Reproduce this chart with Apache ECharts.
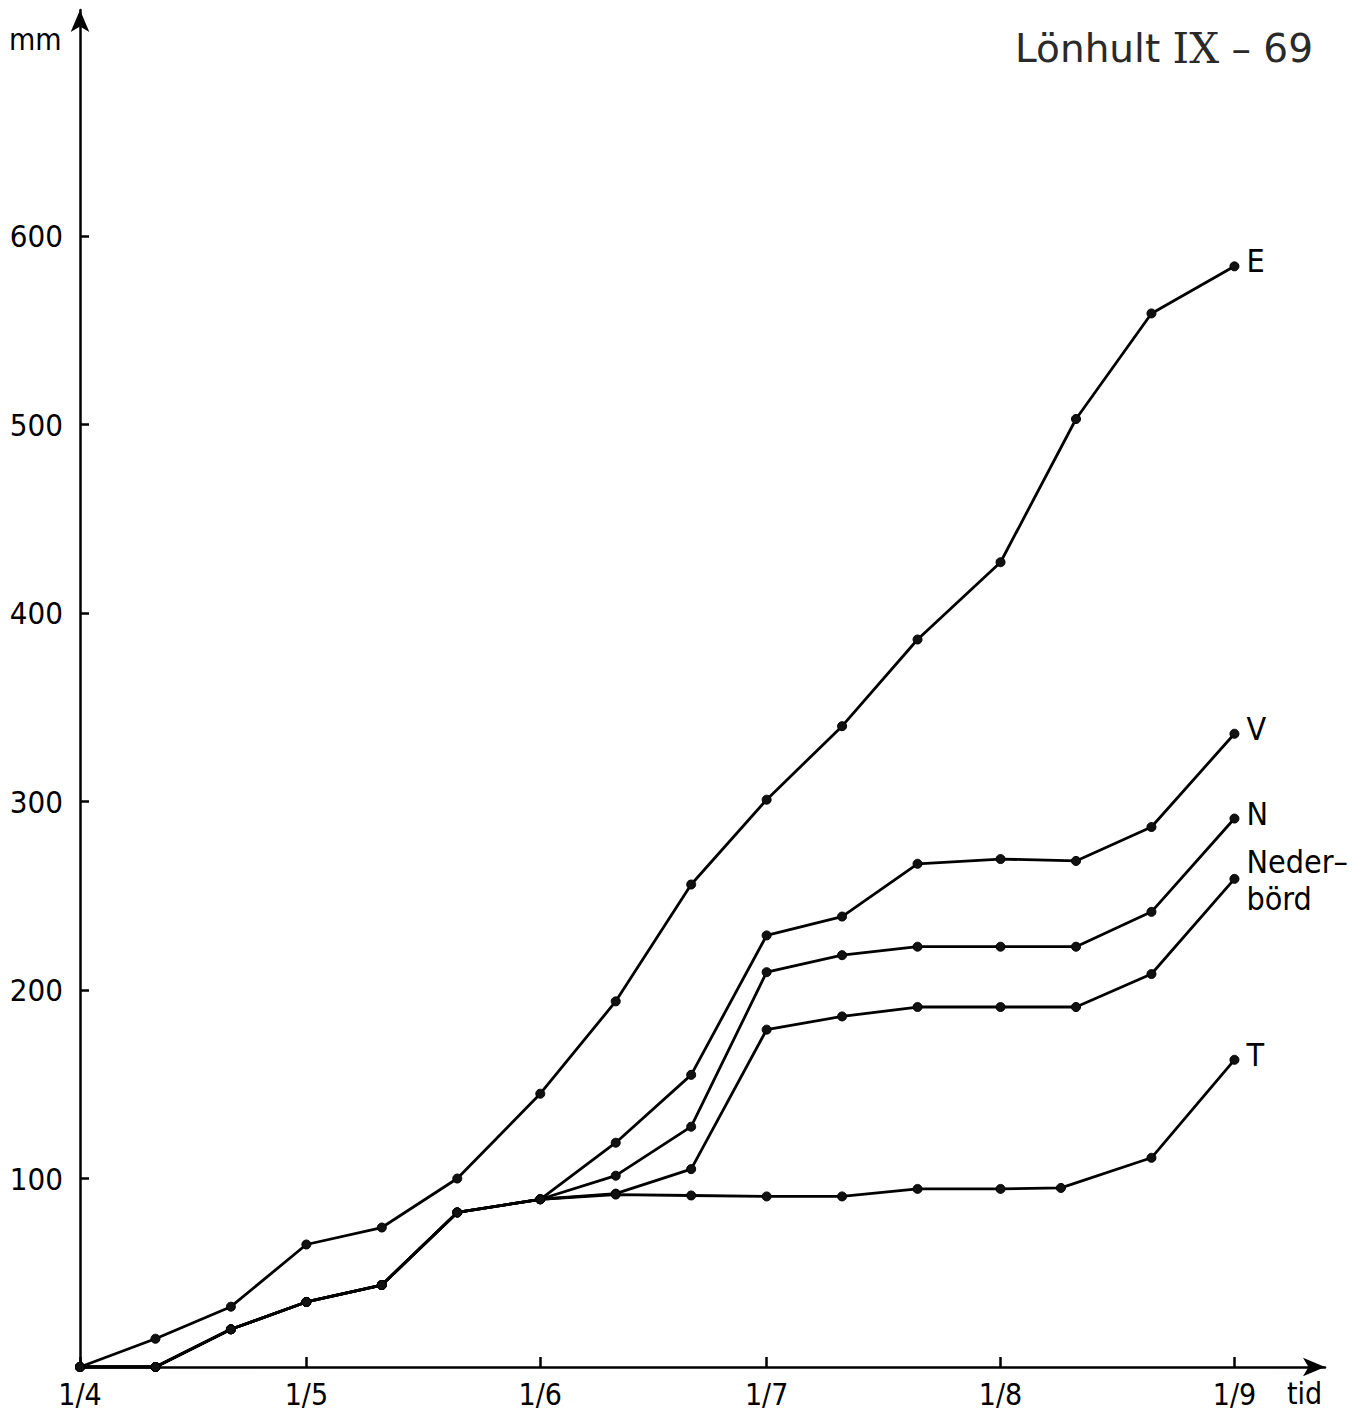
<!DOCTYPE html>
<html>
<head>
<meta charset="utf-8">
<script src="https://cdn.jsdelivr.net/npm/echarts@6/dist/echarts.min.js"></script>
<style>
html,body{margin:0;padding:0;background:#fff;}
#chart{width:1366px;height:1413px;}
</style>
</head>
<body>
<div id="chart"></div>
<script>
// x values are days counted from 1 April
const days  = [0,10,20,30,40,50,61,71,81,91,101,111,122,132,142,153];
const daysT = [0,10,20,30,40,50,61,71,81,91,101,111,122,130,142,153];
const monthTicks  = [0,30,61,91,122,153];
const monthLabels = ['1/4','1/5','1/6','1/7','1/8','1/9'];
const yTicks = [100,200,300,400,500,600];

const E     = [0,15,32,65,74,100,145,194,256,301,340,386,427,503,559,584];
const V     = [0,0,20,34.5,43.5,82,89,119,155,229,239,267,269.5,268.5,286.5,336];
const N     = [0,0,20,34.5,43.5,82,89,101.5,127.5,209.5,218.5,223,223,223,241.5,291];
const Neder = [0,0,20,34.5,43.5,82,89,92,105,179,186,191,191,191,208.5,259];
const T     = [0,0,20,34.5,43.5,82,89,91.5,91,90.5,90.5,94.5,94.5,95,111,163];

const seriesNames = ['E','V','N','Neder–\nbörd','T'];
const seriesVals  = [E,V,N,Neder,T];
const seriesDays  = [days,days,days,days,daysT];

const FONT = "'DejaVu Sans Condensed','DejaVu Sans',sans-serif";
const chart = echarts.init(document.getElementById('chart'), null, {renderer:'svg'});

const series = seriesVals.map((vals, i) => ({
  name: seriesNames[i],
  type: 'line',
  data: vals.map((v, j) => [seriesDays[i][j], v]),
  symbol: 'circle',
  symbolSize: 9,
  lineStyle: {color:'#000', width:2.8},
  itemStyle: {color:'#111', borderColor:'#000', borderWidth:1},
  endLabel: {
    show: true,
    formatter: seriesNames[i],
    distance: 12,
    offset: [0, i === 3 ? 2 : -5],
    color: '#000',
    fontFamily: FONT,
    fontSize: 32,
    lineHeight: 37,
    align: 'left'
  },
  emphasis: {disabled: true},
  animation: false,
  z: 3
}));

chart.setOption({
  backgroundColor: '#fff',
  animation: false,
  title: {
    text: '{a|Lönhult }{b|IX}{a| – 69}',
    right: 48,
    top: 22,
    textStyle: {
      rich: {
        a: {fontFamily: "'DejaVu Sans',sans-serif", fontSize: 39, color:'#2a2a2a', fontWeight:'normal'},
        b: {fontFamily: "'DejaVu Serif','Liberation Serif',serif", fontSize: 42, color:'#2a2a2a', fontWeight:'normal'}
      }
    }
  },
  grid: {left: 80, right: 41, top: 10, bottom: 46},
  xAxis: {
    type: 'value',
    min: 0, max: 165,
    splitLine: {show:false},
    axisLine: {show:true, lineStyle:{color:'#000', width:2.5}, symbol:['none','arrow'], symbolSize:[14,22]},
    axisTick: {show:true, inside:true, length:10, lineStyle:{color:'#000', width:2.5}, customValues: monthTicks},
    axisLabel: {
      show:true, margin: 12, color:'#000', fontFamily: FONT, fontSize: 30, lineHeight: 30,
      customValues: monthTicks,
      formatter: v => monthLabels[monthTicks.indexOf(v)] || ''
    }
  },
  yAxis: {
    type: 'value',
    min: 0, max: 720,
    splitLine: {show:false},
    axisLine: {show:true, lineStyle:{color:'#000', width:2.5}, symbol:['none','arrow'], symbolSize:[14,22]},
    axisTick: {show:true, inside:true, length:9, lineStyle:{color:'#000', width:2.5}, customValues: yTicks},
    axisLabel: {
      show:true, margin: 17, color:'#000', fontFamily: FONT, fontSize: 31,
      customValues: yTicks
    }
  },
  graphic: [
    {type:'text', left: 9, top: 24, style:{text:'mm', fill:'#000', font: "30px " + FONT}},
    {type:'text', left: 1287, top: 1378, style:{text:'tid', fill:'#000', font: "30px " + FONT, lineHeight: 30}}
  ],
  series: series
});
</script>
</body>
</html>
